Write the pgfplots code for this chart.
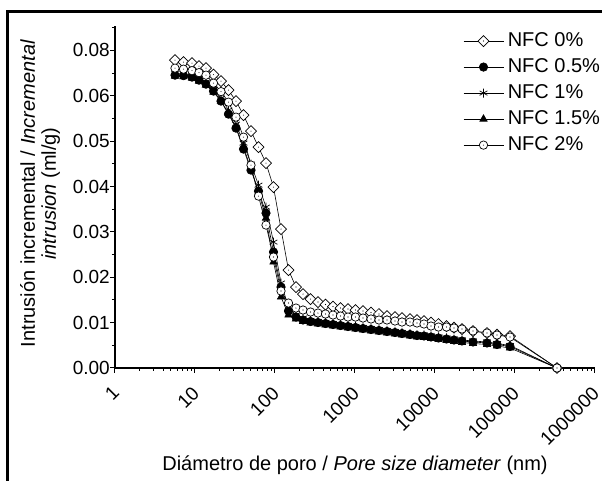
\documentclass[border=0pt]{standalone}
\usepackage{fontspec}
\setmainfont{Liberation Sans}
\usepackage{pgfplots}
\usepackage{pgfplotstable}
\pgfplotsset{compat=1.18}

\pgfdeclareplotmark{dotdiamond}{%
  \pgfpathmoveto{\pgfqpoint{0pt}{\pgfplotmarksize}}%
  \pgfpathlineto{\pgfqpoint{\pgfplotmarksize}{0pt}}%
  \pgfpathlineto{\pgfqpoint{0pt}{-\pgfplotmarksize}}%
  \pgfpathlineto{\pgfqpoint{-\pgfplotmarksize}{0pt}}%
  \pgfpathclose
  \pgfusepathqfillstroke
  \pgfscope
  \pgfsetfillcolor{black}%
  \pgfpathcircle{\pgfpointorigin}{0.55pt}%
  \pgfusepathqfill
  \endpgfscope
}
\pgfdeclareplotmark{dotcircle}{%
  \pgfpathcircle{\pgfpointorigin}{\pgfplotmarksize}%
  \pgfusepathqfillstroke
  \pgfscope
  \pgfsetfillcolor{black}%
  \pgfpathcircle{\pgfpointorigin}{0.55pt}%
  \pgfusepathqfill
  \endpgfscope
}

\pgfplotstableread{
d s0 s05 s1 s15 s2
5.623 0.07327 0.06970 0.07018 0.06946 0.07137
7.180 0.07279 0.06958 0.07006 0.06934 0.07113
9.173 0.07256 0.06923 0.06970 0.06899 0.07077
11.22 0.07184 0.06851 0.06899 0.06827 0.07030
13.72 0.07137 0.06756 0.06804 0.06732 0.06970
17.03 0.06982 0.06590 0.06637 0.06566 0.06780
21.13 0.06827 0.06352 0.06423 0.06352 0.06578
26.23 0.06613 0.06042 0.06138 0.06066 0.06328
32.55 0.06352 0.05709 0.05804 0.05733 0.05971
40.39 0.06019 0.05210 0.05353 0.05257 0.05495
50.12 0.05638 0.04710 0.04853 0.04734 0.04829
62.20 0.05257 0.04211 0.04353 0.04187 0.04092
77.18 0.04877 0.03687 0.03830 0.03568 0.03402
95.78 0.04306 0.02760 0.02997 0.02522 0.02641
118.9 0.03307 0.01927 0.02022 0.01689 0.01832
147.5 0.02331 0.01356 0.01451 0.01261 0.01546
183.0 0.01927 0.01213 0.01261 0.01166 0.01427
223.9 0.01760 0.01142 0.01189 0.01106 0.01380
277.8 0.01641 0.01107 0.01131 0.01071 0.01332
344.7 0.01570 0.01083 0.01107 0.01047 0.01308
427.8 0.01511 0.01059 0.01083 0.01023 0.01285
530.9 0.01463 0.01035 0.01059 0.00999 0.01261
658.8 0.01427 0.01011 0.01035 0.00975 0.01237
817.5 0.01404 0.00988 0.01012 0.00952 0.01213
1014.5 0.01380 0.00964 0.00988 0.00928 0.01213
1258.9 0.01356 0.00940 0.00964 0.00904 0.01189
1584.9 0.01320 0.00916 0.00940 0.00880 0.01166
1995.3 0.01285 0.00892 0.00916 0.00856 0.01142
2511.9 0.01237 0.00869 0.00893 0.00833 0.01142
3162.3 0.01213 0.00845 0.00869 0.00809 0.01118
3868.4 0.01189 0.00821 0.00845 0.00785 0.01094
4869.7 0.01166 0.00797 0.00821 0.00761 0.01094
5956.6 0.01142 0.00773 0.00797 0.00737 0.01071
7286.3 0.01118 0.00762 0.00786 0.00726 0.01047
8912.5 0.01082 0.00738 0.00762 0.00702 0.00999
11059 0.01047 0.00714 0.00738 0.00678 0.00975
13923 0.00999 0.00690 0.00714 0.00654 0.00975
17278 0.00963 0.00666 0.00690 0.00630 0.00952
21752 0.00928 0.00643 0.00667 0.00607 0.00928
29854 0.00880 0.00619 0.00643 0.00583 0.00880
44668 0.00833 0.00595 0.00619 0.00559 0.00833
59566 0.00797 0.00559 0.00583 0.00523 0.00785
86596 0.00761 0.00512 0.00536 0.00476 0.00737
334965 0 0 0 0 0
}\datatable

\begin{document}
\fontsize{19}{22}\selectfont
\begin{tikzpicture}
\begin{axis}[
  name=ax,
  at={(0,0)}, anchor=south west,
  scale only axis, width=480pt, height=342pt,
  xmode=log, log basis x=10,
  xmin=1, xmax=1000000,
  ymin=0, ymax=0.0814,
  scaled y ticks=false,
  axis lines=left, axis line style={-, line width=1.1pt},
  tick align=outside,
  major tick length=5pt, minor tick length=3pt,
  every tick/.style={black, line width=1pt},
  xtick={1,10,100,1000,10000,100000,1000000},
  xticklabels={1,10,100,1000,10000,100000,1000000},
  minor xtick={2,3,4,5,6,7,8,9,20,30,40,50,60,70,80,90,200,300,400,500,600,700,800,900,2000,3000,4000,5000,6000,7000,8000,9000,20000,30000,40000,50000,60000,70000,80000,90000,200000,300000,400000,500000,600000,700000,800000,900000},
  ytick={0,0.0108,0.0216,0.0324,0.0432,0.054,0.0648,0.0756},
  yticklabels={0.00,0.01,0.02,0.03,0.04,0.05,0.06,0.08},
  minor ytick={0.0054,0.0162,0.027,0.0378,0.0486,0.0594,0.0702,0.081},
  xticklabel style={yshift=-12pt, xshift=-4pt, rotate=45, anchor=north east, inner sep=0pt, font=\fontsize{19}{22}\selectfont},
  yticklabel style={inner sep=0pt, xshift=0pt, font=\fontsize{19}{22}\selectfont},
  xlabel={Diámetro de poro / \textit{Pore size diameter} (nm)},
  xlabel style={at={(axis description cs:0.5,-0.284)}, anchor=center, font=\fontsize{20}{24}\selectfont},
  ylabel={Intrusión incremental / \textit{Incremental}\\\textit{intrusion} (ml/g)},
  ylabel style={at={(axis description cs:-0.156,0.51)}, anchor=center, align=center, font=\fontsize{20}{21}\selectfont},
  legend style={at={(0.725,0.987)}, anchor=north west, draw=none, fill=none,
    font=\fontsize{20}{24}\selectfont, row sep=5.2pt, column sep=2pt, inner sep=0pt},
  legend cell align=left,
  legend image code/.code={\draw[mark repeat=2,mark phase=2,#1] plot coordinates {(0pt,0pt) (20pt,0pt) (40pt,0pt)};},
  every axis plot/.append style={black, line width=0.6pt},
]
\addplot[mark=dotdiamond, mark size=5.5pt, mark options={solid, fill=white, line width=0.7pt}] table[x=d, y=s0] {\datatable};
\addlegendentry{NFC 0\%}
\addplot[mark=*, mark size=4.2pt, mark options={solid, fill=black, line width=0.7pt}] table[x=d, y=s05] {\datatable};
\addlegendentry{NFC 0.5\%}
\addplot[mark=asterisk, mark size=4.5pt, mark options={solid, line width=0.7pt}] table[x=d, y=s1] {\datatable};
\addlegendentry{NFC 1\%}
\addplot[mark=triangle*, mark size=4.2pt, mark options={solid, fill=black, line width=0.7pt}] table[x=d, y=s15] {\datatable};
\addlegendentry{NFC 1.5\%}
\addplot[mark=dotcircle, mark size=4.2pt, mark options={solid, fill=white, line width=0.7pt}] table[x=d, y=s2] {\datatable};
\addlegendentry{NFC 2\%}
\end{axis}
\draw[line width=3pt] ([shift={(-107pt,-115pt)}]ax.south west) -- ([shift={(-107pt,356pt)}]ax.south west) -- ([shift={(490pt,356pt)}]ax.south west);
\pgfresetboundingbox
\path[use as bounding box] ([shift={(-115pt,-113pt)}]ax.south west) rectangle ([shift={(487pt,368pt)}]ax.south west);
\end{tikzpicture}
\end{document}
